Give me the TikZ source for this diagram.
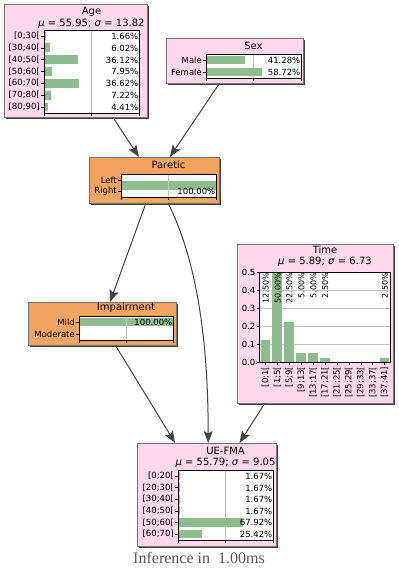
\documentclass[tikz,border=0pt]{standalone}
\usepackage{fontspec}
\setmainfont{DejaVu Sans}
\newfontfamily\inferfont{Liberation Serif}
\usepackage{tikz}
\usetikzlibrary{arrows.meta, shadows, positioning}
\usepackage{xcolor}
\definecolor{colPink}{RGB}{255, 217, 235}
\definecolor{colOrange}{RGB}{244, 164, 96}
\definecolor{colBar}{RGB}{143, 188, 143}
\definecolor{colEdge}{RGB}{68, 68, 68}
\definecolor{colGrid}{RGB}{195, 195, 195}

\begin{document}
\begin{tikzpicture}[
  x=1pt, y=-1pt,
  >={Stealth[length=12pt, width=9pt, inset=2.5pt]},
  cpt/.style={draw=black!55, fill=#1, inner sep=0pt, anchor=north west,
              drop shadow={shadow xshift=1.4pt, shadow yshift=-1.4pt,
                           fill=black!75, opacity=1}},
  ttl/.style={font=\fontsize{10}{11}\selectfont, inner sep=0pt},
  lbl/.style={font=\fontsize{8.5}{9}\selectfont, inner sep=0pt, anchor=east},
  pct/.style={font=\fontsize{8.5}{9}\selectfont, inner sep=0pt, anchor=east},
  barfill/.style={fill=colBar},
  arc/.style={->, colEdge, line width=1pt}
]

\useasboundingbox[fill=white] (0,0) rectangle (399,576);

% ---------- Boites des variables ----------
\node[cpt=colPink, minimum width=143pt, minimum height=113pt] (age) at (4,4) {};
\node[cpt=colPink, minimum width=137pt, minimum height=45pt] (sex) at (166,38) {};
\node[cpt=colOrange, minimum width=130pt, minimum height=46pt] (paretic) at (89,157) {};
\node[cpt=colPink, minimum width=156pt, minimum height=159pt] (time) at (237,244) {};
\node[cpt=colOrange, minimum width=148pt, minimum height=43pt] (impair) at (28,302) {};
\node[cpt=colPink, minimum width=139pt, minimum height=103pt] (uefma) at (137,443) {};

% ---------- Age ----------
\node[ttl] (ageT) at (91.5,12) {Age};
\node[ttl] (ageM) at (91.5,23.5) {\textit{μ} = 55.95; \textit{σ} = 13.82};
\fill[white] (44,30.1) rectangle (139,112.9);
\draw[colGrid] (91.5,30.1) -- (91.5,112.9);
\foreach \lab/\val [count=\i from 0] in {{[0;30[}/1.66, {[30;40[}/6.02,
    {[40;50[}/36.12, {[50;60[}/7.95, {[60;70[}/36.62, {[70;80[}/7.22,
    {[80;90]}/4.41} {
  \fill[barfill] (44,{36+\i*11.83-4.4}) rectangle ++({0.95*\val},8.8);
  \draw (44,{36+\i*11.83}) -- ++(-3,0);
  \node[lbl] (ageL\i) at (40,{36+\i*11.83}) {\lab};
  \node[pct] (ageP\i) at (138.5,{36.3+\i*11.83}) {\val\%};
}
\foreach \x in {44,91.5,139} \draw (\x,112.9) -- ++(0,3);
\draw (44,30.1) rectangle (139,112.9);

% ---------- Sex ----------
\node[ttl] (sexT) at (253.5,46) {Sex};
\fill[white] (206,54) rectangle (301,78);
\draw[colGrid] (253.5,54) -- (253.5,78);
\foreach \lab/\val [count=\i from 0] in {Male/41.28, Female/58.72} {
  \fill[barfill] (206,{60+\i*12-4.4}) rectangle ++({0.95*\val},8.8);
  \draw (206,{60+\i*12}) -- ++(-3,0);
  \node[lbl] (sexL\i) at (202,{60+\i*12}) {\lab};
  \node[pct] (sexP\i) at (300.5,{60.3+\i*12}) {\val\%};
}
\foreach \x in {206,253.5,301} \draw (\x,78) -- ++(0,3);
\draw (206,54) rectangle (301,78);

% ---------- Paretic (observee) ----------
\node[ttl] (parT) at (168.5,165) {Paretic};
\fill[white] (121,174) rectangle (216,197.4);
\fill[barfill] (121,{185.55-4.4}) rectangle (216,{185.55+4.4});
\draw[colGrid] (168.5,174) -- (168.5,197.4);
\draw (121,179.85) -- ++(-3,0);
\draw (121,191.55) -- ++(-3,0);
\node[lbl] (parL0) at (117,179.85) {Left};
\node[lbl] (parL1) at (117,191.55) {Right};
\node[pct] (parP1) at (215.5,191.85) {100.00\%};
\foreach \x in {121,168.5,216} \draw (\x,197.4) -- ++(0,3);
\draw (121,174) rectangle (216,197.4);

% ---------- Impairment (observee) ----------
\node[ttl] (impT) at (126,308) {Impairment};
\fill[white] (79,316) rectangle (173,340);
\fill[barfill] (79,{322-4.4}) rectangle (173,{322+4.4});
\draw[colGrid] (126,316) -- (126,340);
\draw (79,322) -- ++(-3,0);
\draw (79,334) -- ++(-3,0);
\node[lbl] (impL0) at (75,322) {Mild};
\node[lbl] (impL1) at (75,334) {Moderate};
\node[pct] (impP0) at (172.5,322.3) {100.00\%};
\foreach \x in {79,126,173} \draw (\x,340) -- ++(0,3);
\draw (79,316) rectangle (173,340);

% ---------- Time ----------
\node[ttl] (timeT) at (325,250) {Time};
\node[ttl] (timeM) at (325,261.5) {\textit{μ} = 5.89; \textit{σ} = 6.73};
\fill[white] (259.5,272) rectangle (390.5,362);
\foreach \k in {1,...,4} \draw[colGrid] (259.5,{362-18*\k}) -- (390.5,{362-18*\k});
\foreach \k in {0,...,5} {
  \draw (259.5,{362-18*\k}) -- ++(-3,0);
  \node[lbl] (timeY\k) at (255.5,{362-18*\k}) {0.\k};
}
\foreach \lab/\val/\txt [count=\i from 0] in {{[0;1[}/0.125/{12.50\%},
    {[1;5[}/0.5/{50.00\%}, {[5;9[}/0.225/{22.50\%}, {[9;13[}/0.05/{5.00\%},
    {[13;17[}/0.05/{5.00\%}, {[17;21[}/0.025/{2.50\%}, {[21;25[}/0/{},
    {[25;29[}/0/{}, {[29;33[}/0/{}, {[33;37[}/0/{}, {[37;41]}/0.025/{2.50\%}} {
  \fill[barfill] ({259.5+(\i+0.5)*11.909-4.9},362) rectangle ++(9.8,{-180*\val});
  \draw ({259.5+(\i+0.5)*11.909},362) -- ++(0,3);
  \node[lbl, rotate=90] (timeX\i) at ({259.5+(\i+0.5)*11.909},366.5) {\lab};
  \node[pct, rotate=90, font=\fontsize{8}{8}\selectfont]
    (timeP\i) at ({259.8+(\i+0.5)*11.909},273) {\txt};
}
\draw (259.5,272) rectangle (390.5,362);

% ---------- UE-FMA ----------
\node[ttl] (ueT) at (225.5,451) {UE-FMA};
\node[ttl] (ueM) at (225.5,462.5) {\textit{μ} = 55.79; \textit{σ} = 9.05};
\fill[white] (178,470.2) rectangle (273,539.8);
\draw[colGrid] (225.5,470.2) -- (225.5,539.8);
\foreach \lab/\val [count=\i from 0] in {{[0;20[}/1.67, {[20;30[}/1.67,
    {[30;40[}/1.67, {[40;50[}/1.67, {[50;60[}/67.92, {[60;70]}/25.42} {
  \fill[barfill] (178,{476+\i*11.6-4.4}) rectangle ++({0.95*\val},8.8);
  \draw (178,{476+\i*11.6}) -- ++(-3,0);
  \node[lbl] (ueL\i) at (174,{476+\i*11.6}) {\lab};
  \node[pct] (ueP\i) at (272.5,{476.3+\i*11.6}) {\val\%};
}
\foreach \x in {178,225.5,273} \draw (\x,539.8) -- ++(0,3);
\draw (178,470.2) rectangle (273,539.8);

% ---------- Arcs ----------
\draw[arc] (age) -- (paretic);
\draw[arc] (sex) -- (paretic);
\draw[arc] (paretic) -- (impair);
\draw[arc] (impair) -- (uefma);
\draw[arc] (time) -- (uefma);
\draw[arc] ([xshift=14pt]paretic.south)
  .. controls +(24,48) and +(0,-120) .. ([xshift=1.5pt]uefma.north);

% ---------- Temps d'inference ----------
\node[font=\inferfont\fontsize{16}{17}\selectfont, text=black!65]
  (infer) at (199,558) {Inference in\ \ 1.00ms};

\end{tikzpicture}
\end{document}
